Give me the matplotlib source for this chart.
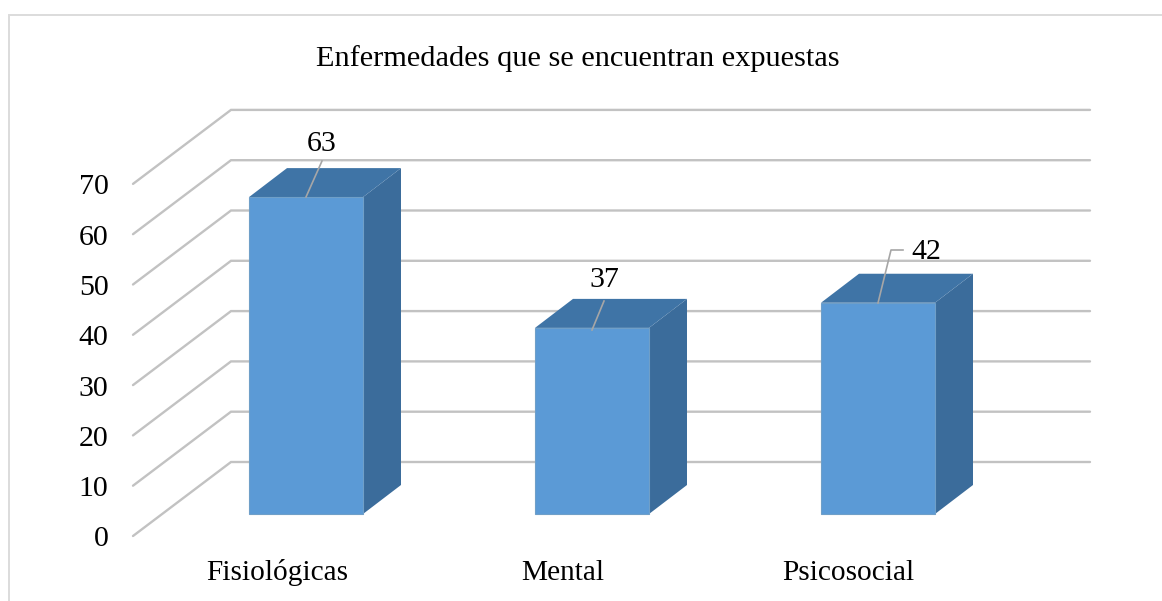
import matplotlib
matplotlib.use("Agg")
import matplotlib.pyplot as plt
from matplotlib.patches import Polygon, Rectangle

plt.rcParams['font.family'] = ['Liberation Serif', 'DejaVu Serif']

title = "Enfermedades que se encuentran expuestas"
categories = ["Fisiológicas", "Mental", "Psicosocial"]
values = [63, 37, 42]
y_ticks = [0, 10, 20, 30, 40, 50, 60, 70]

W, H = 1162, 601
fig = plt.figure(figsize=(W / 100, H / 100), dpi=100, facecolor="white")
ax = fig.add_axes([0, 0, 1, 1])

# pixel scale of the chart
PX_X = 286.0      # px per category
PX_Y = 5.03       # px per value unit
X0 = 306.0        # px of the first category
Y0 = 514.0        # px of value 0 at the bar's front face
ax.set_xlim((0 - X0) / PX_X, (W - X0) / PX_X)
ax.set_ylim((Y0 - H) / PX_Y, Y0 / PX_Y)
ax.axis("off")

def dx(p):
    return p / PX_X

def dy(p):
    return p / PX_Y

def px(x_px, y_px):
    return dx(x_px - X0), dy(Y0 - y_px)

# outer frame: only the left and top edges show in the picture
corner = px(9, 14.5)
ax.plot([px(9, H + 5)[0], corner[0], px(W + 5, 14.5)[0]],
        [px(9, H + 5)[1], corner[1], corner[1]],
        color="#dcdcdc", lw=1.4, solid_joinstyle="miter", zorder=1)

# gridlines: wall plus the floor-side diagonal
grid_c = "#c2c2c2"
fx, bx, rx = dx(133 - X0), dx(231 - X0), dx(1090 - X0)
front_off, back_off = dy(-22), dy(52)
for t in y_ticks:
    ax.plot([fx, bx, rx], [t + front_off, t + back_off, t + back_off],
            color=grid_c, lw=1.7, solid_capstyle="round",
            solid_joinstyle="miter", zorder=2)
    ax.text(dx(108.5 - X0), t + front_off + dy(-3.5), str(t), ha="right",
            va="center", fontsize=21.5, color="black", zorder=6)

# 3D bars
bw = dx(114)
ddx, ddy = dx(38), dy(29)
front_c, top_c, side_c = "#5b9ad6", "#3f74a6", "#3b6c9b"
for i, v in enumerate(values):
    l, r = i - bw / 2, i + bw / 2
    ax.add_patch(Polygon([(r, 0), (r + ddx, ddy), (r + ddx, v + ddy), (r, v)],
                         fc=side_c, ec="none", zorder=3))
    ax.add_patch(Polygon([(l, v), (r, v), (r + ddx, v + ddy), (l + ddx, v + ddy)],
                         fc=top_c, ec="none", zorder=3))
    ax.add_patch(Rectangle((l, 0), bw, v, fc=front_c, ec="#6f9fc8", lw=0.8, zorder=4))

# category labels sit at their own positions in the reference
label_px = [277.5, 562.5, 848]
for name, p in zip(categories, label_px):
    x, y = px(p, 573)
    ax.text(x, y, name, ha="center", va="center",
            fontsize=21.2, color="black", zorder=6)

# value labels with leader lines
value_px = [(322, 144), (604, 280), (926, 252)]
leaders = [
    [(306, 197), (322, 161)],
    [(592, 330), (604, 301)],
    [(878, 303), (891, 250), (903, 250)],
]
for v, (p, q), pts in zip(values, value_px, leaders):
    x, y = px(p, q)
    ax.text(x, y, str(v), ha="center", va="center",
            fontsize=21.5, color="black", zorder=6)
    ax.plot([dx(a - X0) for a, _ in pts], [dy(Y0 - b) for _, b in pts],
            color="#a6a6a6", lw=1.2, zorder=5)

x, y = px(578, 58.5)
ax.text(x, y, title, ha="center", va="center",
        fontsize=21.9, color="black", zorder=6)

fig.savefig("out.png", dpi=100)
